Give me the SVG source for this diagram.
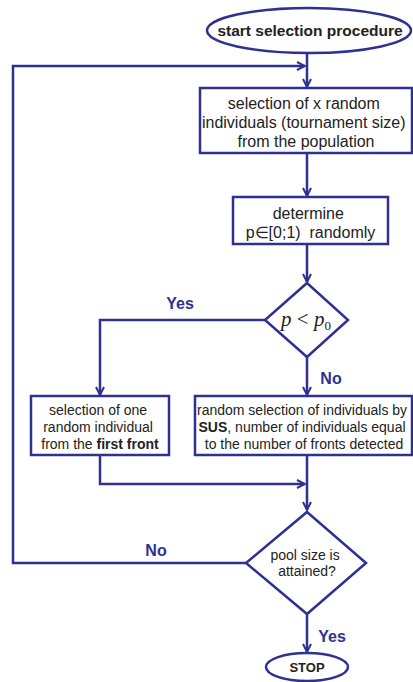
<svg xmlns="http://www.w3.org/2000/svg" width="413" height="682" viewBox="0 0 413 682">
  <style>
    .shape { fill: #ffffff; stroke: #2e3192; stroke-width: 2.5; }
    .conn { fill: none; stroke: #2e3192; stroke-width: 2.5; }
    .t { font-family: "Liberation Sans", Arial, sans-serif; fill: #222222; text-anchor: middle; }
    .lbl { font-family: "Liberation Sans", Arial, sans-serif; fill: #2e3192; font-weight: bold; font-size: 16px; text-anchor: middle; }
  </style>
  <defs>
    <marker id="arr" viewBox="0 0 10 10" refX="9" refY="5" markerWidth="10" markerHeight="10" markerUnits="userSpaceOnUse" orient="auto">
      <path d="M1,1 L9,5 L1,9" fill="none" stroke="#2e3192" stroke-width="2"/>
    </marker>
  </defs>
  <rect width="413" height="682" fill="#ffffff"/>

  <g id="connectors">
    <line class="conn" x1="307" y1="53" x2="307" y2="87" marker-end="url(#arr)"/>
    <polyline class="conn" points="246,563 13,563 13,66 305,66" marker-end="url(#arr)"/>
    <line class="conn" x1="307" y1="153" x2="307" y2="196" marker-end="url(#arr)"/>
    <line class="conn" x1="307" y1="244" x2="307" y2="282" marker-end="url(#arr)"/>
    <polyline class="conn" points="265,320 100,320 100,395" marker-end="url(#arr)"/>
    <line class="conn" x1="307" y1="357" x2="307" y2="395" marker-end="url(#arr)"/>
    <polyline class="conn" points="100,455 100,484 305,484" marker-end="url(#arr)"/>
    <line class="conn" x1="307" y1="455" x2="307" y2="510" marker-end="url(#arr)"/>
    <line class="conn" x1="307" y1="615" x2="307" y2="652" marker-end="url(#arr)"/>
    <text class="lbl" x="180" y="309">Yes</text>
    <text class="lbl" x="331" y="384">No</text>
    <text class="lbl" x="156" y="556">No</text>
    <text class="lbl" x="332" y="642">Yes</text>
  </g>

  <g id="start">
    <ellipse class="shape" cx="309" cy="30.5" rx="102" ry="22.5"/>
    <text class="t" x="310" y="36" font-size="15.5" font-weight="bold">start selection procedure</text>
  </g>

  <g id="select-x">
    <rect class="shape" x="200" y="88" width="212" height="65"/>
    <text class="t" font-size="16">
      <tspan x="306" y="109">selection of x random</tspan>
      <tspan x="306" y="128">individuals (tournament size)</tspan>
      <tspan x="306" y="147">from the population</tspan>
    </text>
  </g>

  <g id="determine-p">
    <rect class="shape" x="233" y="197" width="155" height="47"/>
    <text class="t" font-size="16">
      <tspan x="310.5" y="219">determine</tspan>
      <tspan x="310.5" y="238" xml:space="preserve">p∈[0;1)  randomly</tspan>
    </text>
  </g>

  <g id="decision-p">
    <polygon class="shape" points="307,283 348,320 307,357 265,320"/>
    <text x="306" y="326" font-family="'Liberation Serif', 'Times New Roman', serif" font-size="21" fill="#222222" text-anchor="middle"><tspan font-style="italic">p</tspan> &lt; <tspan font-style="italic">p</tspan><tspan font-size="13" dy="4">0</tspan></text>
  </g>

  <g id="first-front">
    <rect class="shape" x="31" y="396" width="138" height="59"/>
    <text class="t" font-size="14">
      <tspan x="100" y="415">selection of one</tspan>
      <tspan x="100" y="432">random individual</tspan>
      <tspan x="100" y="449">from the <tspan font-weight="bold">first front</tspan></tspan>
    </text>
  </g>

  <g id="sus">
    <rect class="shape" x="195" y="396" width="217" height="59"/>
    <text class="t" font-size="14">
      <tspan x="304" y="415">random selection of individuals by</tspan>
      <tspan x="304" y="432"><tspan font-weight="bold">SUS</tspan>, number of individuals equal</tspan>
      <tspan x="304" y="449">to the number of fronts detected</tspan>
    </text>
  </g>

  <g id="pool-size">
    <polygon class="shape" points="307,512 366,563 307,614 246,563"/>
    <text class="t" font-size="14">
      <tspan x="307" y="560">pool size is</tspan>
      <tspan x="307" y="576">attained?</tspan>
    </text>
  </g>

  <g id="stop">
    <ellipse class="shape" cx="307" cy="667" rx="41" ry="14"/>
    <text class="t" x="307" y="672" font-size="13" font-weight="bold">STOP</text>
  </g>
</svg>
